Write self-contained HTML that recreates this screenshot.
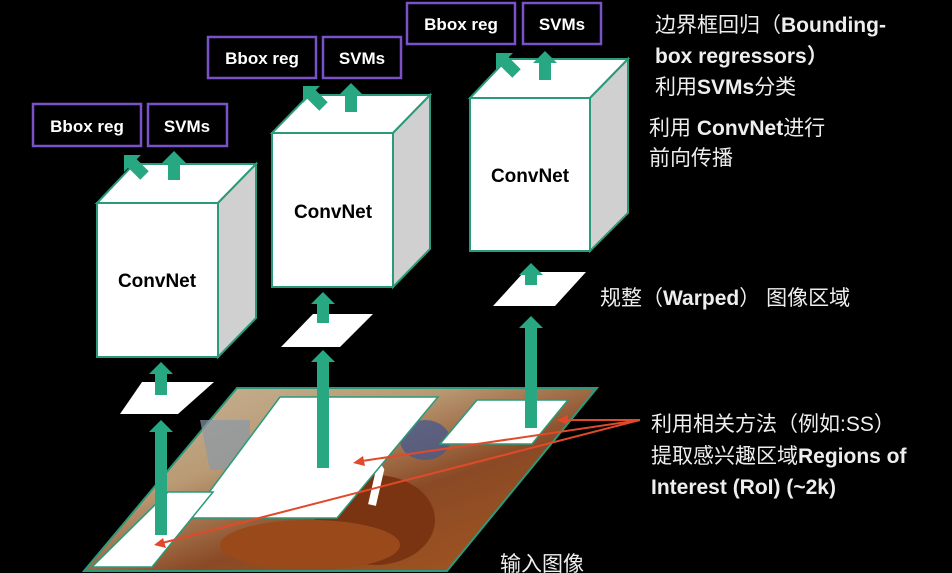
<!DOCTYPE html>
<html><head><meta charset="utf-8"><style>
html,body{margin:0;padding:0;background:#000;}
svg{display:block}
text{font-family:"Liberation Sans","Noto Sans CJK SC",sans-serif;}
</style></head><body>
<svg width="952" height="573" viewBox="0 0 952 573" xmlns="http://www.w3.org/2000/svg">
<defs>
<linearGradient id="img" x1="0" y1="0" x2="1" y2="1">
<stop offset="0" stop-color="#c9b89c"/>
<stop offset="0.35" stop-color="#b99a74"/>
<stop offset="0.6" stop-color="#8a4a25"/>
<stop offset="1" stop-color="#a8571f"/>
</linearGradient>
</defs>
<rect width="952" height="573" fill="#000"/>
<!-- input image -->
<polygon points="84,571 447,571 597,388 237,388" fill="url(#img)" stroke="#2a9a7a" stroke-width="2"/>
<polygon points="200,420 250,420 250,470 210,470" fill="#8a98a8" opacity="0.7"/>
<ellipse cx="375" cy="520" rx="60" ry="45" fill="#7a3412"/>
<ellipse cx="310" cy="545" rx="90" ry="25" fill="#9a4a1a"/>
<path d="M370,455 L380,470 L372,505" stroke="#fff" stroke-width="8" fill="none"/>
<ellipse cx="425" cy="440" rx="25" ry="20" fill="#4a5a8a" opacity="0.8"/>
<!-- regions -->
<polygon points="280,397 438,397 337,518 190,518" fill="#fff" stroke="#2a9a7a" stroke-width="1.5"/>
<polygon points="168,492 213,492 152,567 92,567" fill="#fff" stroke="#2a9a7a" stroke-width="1.5"/>
<polygon points="477,400 568,400 532,444 440,444" fill="#fff" stroke="#2a9a7a" stroke-width="1.5"/>
<!-- warped -->
<polygon points="120,414 178,414 214,382 142,382" fill="#fff"/>
<polygon points="281,347 340,347 373,314 313,314" fill="#fff"/>
<polygon points="493,306 555,306 586,272 524,272" fill="#fff"/>
<!-- cubes -->
<g stroke="#2a9a7a" stroke-width="2">
<polygon points="97,203 218,203 256,164 134,164" fill="#fff"/>
<polygon points="218,203 256,164 256,318 218,357" fill="#d0d0d0"/>
<rect x="97" y="203" width="121" height="154" fill="#fff"/>
<polygon points="272,133 393,133 430,95 309,95" fill="#fff"/>
<polygon points="393,133 430,95 430,249 393,287" fill="#d0d0d0"/>
<rect x="272" y="133" width="121" height="154" fill="#fff"/>
<polygon points="470,98 590,98 628,59 507,59" fill="#fff"/>
<polygon points="590,98 628,59 628,213 590,251" fill="#d0d0d0"/>
<rect x="470" y="98" width="120" height="153" fill="#fff"/>
</g>
<g font-weight="bold" font-size="19" fill="#000" text-anchor="middle">
<text x="157" y="287">ConvNet</text>
<text x="333" y="218">ConvNet</text>
<text x="530" y="182">ConvNet</text>
</g>
<!-- green arrows -->
<g fill="#27a882">
<path d="M0,0 L12,12 L6,12 L6,115 L-6,115 L-6,12 L-12,12 Z" transform="translate(161,420)"/>
<path d="M0,0 L12,12 L6,12 L6,33 L-6,33 L-6,12 L-12,12 Z" transform="translate(161,362)"/>
<path d="M0,0 L12,12 L6,12 L6,118 L-6,118 L-6,12 L-12,12 Z" transform="translate(323,350)"/>
<path d="M0,0 L12,12 L6,12 L6,31 L-6,31 L-6,12 L-12,12 Z" transform="translate(323,292)"/>
<path d="M0,0 L12,12 L6,12 L6,112 L-6,112 L-6,12 L-12,12 Z" transform="translate(531,316)"/>
<path d="M0,0 L12,12 L6,12 L6,22 L-6,22 L-6,12 L-12,12 Z" transform="translate(531,263)"/>
<path d="M0,0 L12,12 L6,12 L6,29 L-6,29 L-6,12 L-12,12 Z" transform="translate(174,151)"/>
<path d="M0,0 L12,12 L6,12 L6,29 L-6,29 L-6,12 L-12,12 Z" transform="translate(124,155) rotate(-45)"/>
<path d="M0,0 L12,12 L6,12 L6,29 L-6,29 L-6,12 L-12,12 Z" transform="translate(351,83)"/>
<path d="M0,0 L12,12 L6,12 L6,29 L-6,29 L-6,12 L-12,12 Z" transform="translate(303,86) rotate(-45)"/>
<path d="M0,0 L12,12 L6,12 L6,29 L-6,29 L-6,12 L-12,12 Z" transform="translate(545,51)"/>
<path d="M0,0 L12,12 L6,12 L6,29 L-6,29 L-6,12 L-12,12 Z" transform="translate(496,53) rotate(-45)"/>
</g>
<!-- boxes -->
<g fill="none" stroke="#7a52c8" stroke-width="2.5">
<rect x="33" y="104" width="108" height="42"/><rect x="148" y="104" width="79" height="42"/>
<rect x="208" y="37" width="108" height="41"/><rect x="323" y="37" width="78" height="41"/>
<rect x="407" y="3" width="108" height="41"/><rect x="523" y="3" width="78" height="41"/>
</g>
<g fill="#fff" font-weight="bold" font-size="17" text-anchor="middle">
<text x="87" y="132">Bbox reg</text><text x="187" y="132">SVMs</text>
<text x="262" y="64">Bbox reg</text><text x="362" y="64">SVMs</text>
<text x="461" y="30">Bbox reg</text><text x="562" y="30">SVMs</text>
</g>
<!-- red arrows -->
<g stroke="#e04a2a" stroke-width="2" fill="#e04a2a">
<line x1="640" y1="420" x2="566" y2="420"/>
<line x1="640" y1="420" x2="362" y2="461"/>
<line x1="640" y1="420" x2="162" y2="543"/>
<polygon points="557,420 568,415 568,425" stroke="none"/>
<polygon points="353,463 363,456 365,466" stroke="none"/>
<polygon points="154,545 163,538 166,548" stroke="none"/>
</g>
<!-- labels -->
<g fill="#eee" font-size="21">
<text x="655" y="32">边界框回归（<tspan font-weight="bold">Bounding-</tspan></text>
<text x="655" y="63" font-weight="bold">box regressors）</text>
<text x="655" y="94">利用<tspan font-weight="bold">SVMs</tspan>分类</text>
<text x="649" y="135">利用 <tspan font-weight="bold">ConvNet</tspan>进行</text>
<text x="649" y="165">前向传播</text>
<text x="600" y="305">规整（<tspan font-weight="bold">Warped</tspan>） 图像区域</text>
<text x="651" y="431">利用相关方法（例如:SS）</text>
<text x="651" y="463">提取感兴趣区域<tspan font-weight="bold">Regions of</tspan></text>
<text x="651" y="494" font-weight="bold">Interest (RoI) (~2k)</text>
<text x="500" y="571">输入图像</text>
</g>
</svg>
</body></html>
